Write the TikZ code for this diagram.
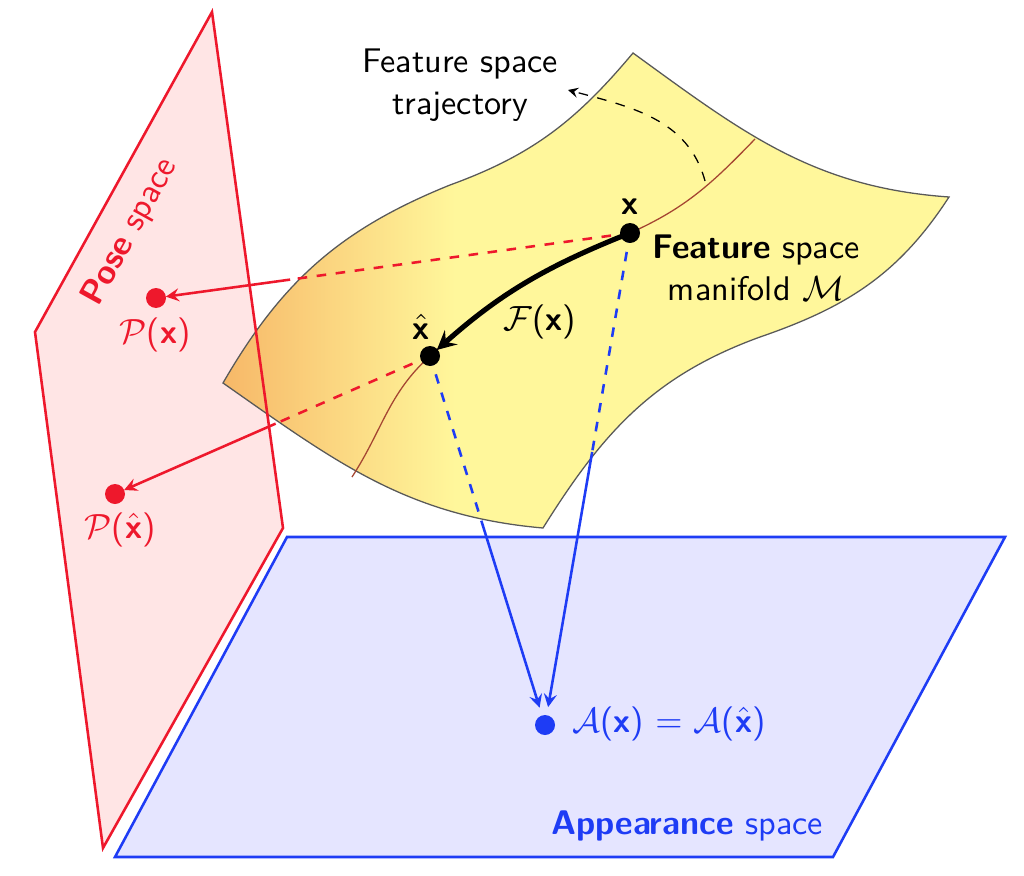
\documentclass[tikz,border=0pt]{standalone}
\usepackage{amsmath,amssymb}
\usepackage{tikz}
\usetikzlibrary{arrows.meta, positioning, calc}

\definecolor{manyellow}{RGB}{255,247,155}
\definecolor{manorange}{RGB}{247,184,104}
\definecolor{trajbrown}{RGB}{165,70,50}
\definecolor{posered}{RGB}{238,24,44}
\definecolor{appblue}{RGB}{30,60,245}

\newcommand{\bx}{\textbf{x}}
\newcommand{\hbx}{$\hat{\textbf{x}}$}

\begin{document}
\begin{tikzpicture}[x=0.011cm, y=0.011cm, font=\sffamily\fontsize{10.7pt}{13pt}\selectfont, >=stealth,
    spot/.style={circle, fill, inner sep=0pt, minimum size=0.22cm}]
    \useasboundingbox (0,0) rectangle (1024,875);

    % points
    \coordinate (x) at (630,642);
    \coordinate (xh) at (430,519);
    \coordinate (px) at (156,577);
    \coordinate (pxh) at (115,381);
    \coordinate (ax) at (545,150);

    % pose space and appearance space
    \fill[red!10] (212,863) -- (283,347) -- (103,27) -- (35,543) -- cycle;
    \draw[appblue, thick, fill=blue!10] (287,338) -- (1005,338) -- (833,18) -- (115,18) -- cycle;

    % feature space manifold
    \begin{scope}
        \clip (223,492) to[out=60,in=-158] (450,690) to[out=20,in=-130] (633,822)
            to[out=-36,in=176] (949,678) to[out=237,in=19] (760,538)
            to[out=200,in=58] (543,347) to[out=175,in=-35] (223,492) -- cycle;
        \fill[manyellow] (200,300) rectangle (960,830);
        \shade[left color=manorange, right color=manyellow] (223,300) rectangle (455,830);
    \end{scope}
    \draw[gray!70!black, thin] (223,492) to[out=60,in=-158] (450,690) to[out=20,in=-130] (633,822)
        to[out=-36,in=176] (949,678) to[out=237,in=19] (760,538)
        to[out=200,in=58] (543,347) to[out=175,in=-35] (223,492) -- cycle;
    \draw[posered, thick] (212,863) -- (283,347) -- (103,27) -- (35,543) -- cycle;

    % trajectory
    \draw[trajbrown, thin] (352,398) to[out=57,in=-138] (xh) to[bend left=10] (x) to[out=24,in=-134] (755,736);
    \coordinate (trajstart) at (705,694);
    \coordinate (trajtip) at (568,785);
    \draw[dashed, ->] (trajstart) to[out=105,in=-15] (trajtip);

    % projections to pose space
    \draw[posered, thick, dashed] (x) -- ($(x)!0.717!(px)$) coordinate (rx);
    \draw[posered, thick, ->, shorten >=0.11cm] (rx) -- (px);
    \draw[posered, thick, dashed] (xh) -- ($(xh)!0.49!(pxh)$) coordinate (rxh);
    \draw[posered, thick, ->, shorten >=0.11cm] (rxh) -- (pxh);

    % projections to appearance space
    \draw[appblue, thick, dashed] (x) -- ($(x)!0.445!(ax)$) coordinate (bx);
    \draw[appblue, thick, ->, shorten >=0.2cm] (bx) -- (ax);
    \draw[appblue, thick, dashed] (xh) -- ($(xh)!0.45!(ax)$) coordinate (bxh);
    \draw[appblue, thick, ->, shorten >=0.2cm] (bxh) -- (ax);

    % F(x)
    \draw[line width=1.6pt, ->, shorten >=0.1cm] (x) to[bend right=10] (xh);

    % dots
    \node[spot] (xdot) at (x) {};
    \node[spot] (xhdot) at (xh) {};
    \node[spot, posered] (pxdot) at (px) {};
    \node[spot, posered] (pxhdot) at (pxh) {};
    \node[spot, appblue] (axdot) at (ax) {};

    % labels
    \node (xlab) at (630,668) {\bx};
    \node (xhlab) at (421,548) {\hbx};
    \node (flab) at (540,553) {$\mathcal{F}$(\bx)};
    \node[align=center] (featlab) at (756,607) {\textbf{Feature} space\\manifold $\mathcal{M}$};
    \node[align=center] (trajlab) at (460,790) {Feature space\\trajectory};
    \node[posered, rotate=61] (poselab) at (130,643) {\textbf{Pose} space};
    \node[posered] (pxlab) at (155,540) {$\mathcal{P}$(\bx)};
    \node[posered] (pxhlab) at (120,345) {$\mathcal{P}$(\hbx)};
    \node[appblue, anchor=west] (alab) at (561,151) {$\mathcal{A}$(\bx) $=$ $\mathcal{A}$(\hbx)};
    \node[appblue] (applab) at (687,49) {\textbf{Appearance} space};
\end{tikzpicture}
\end{document}
